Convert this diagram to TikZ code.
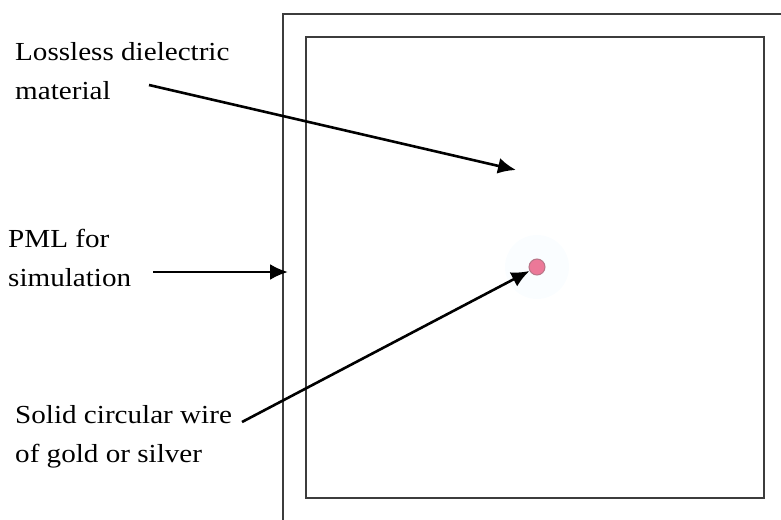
\documentclass[tikz,border=0pt]{standalone}
\usepackage{fontspec}
\setmainfont[FakeStretch=1.12]{Liberation Serif}
\definecolor{frameg}{RGB}{60,60,60}
\definecolor{wirepink}{RGB}{236,120,152}
\usetikzlibrary{arrows.meta}
\tikzset{
    callout/.style={
        anchor=north west, inner sep=0pt, align=left,
        font=\fontsize{26}{39}\selectfont
    },
    wall/.style={draw=frameg, line width=2pt},
    pointer/.style={
        -{Latex[length=18pt,width=16pt]}, line width=2.6pt, black
    }
}

\begin{document}
\begin{tikzpicture}[x=1pt, y=-1pt]
    \useasboundingbox (0,0) rectangle (781,519);
    % PML layer (runs off the page) and the dielectric region
    \begin{scope}
        \clip (0,0) rectangle (781,519);
        \draw[wall] (283,14) rectangle (800,540);
    \end{scope}
    \draw[wall] (306,37) rectangle (764,498);
    \fill[cyan!2] (537,267) circle (32pt);
    \node[circle, fill=wirepink, draw=wirepink!70!black!80, line width=1pt,
          minimum size=16pt, inner sep=0pt] (wire) at (537,267) {};

    \node[callout] (diel) at (15,42) {Lossless dielectric\\material};
    \node[callout] (pml) at (8,229) {PML for\\simulation};
    \node[callout] (solid) at (15,405) {Solid circular wire\\of gold or silver};

    \coordinate (dielfrom) at (149,85);
    \coordinate (dielto) at (516,170);
    \coordinate (pmlfrom) at (153,272);
    \coordinate (pmlto) at (288,272);
    \coordinate (solidfrom) at (242,422);

    \draw[pointer] (dielfrom) -- (dielto);
    \draw[pointer] (pmlfrom) -- (pmlto);
    \draw[pointer] (solidfrom) -- (wire);
\end{tikzpicture}
\end{document}
